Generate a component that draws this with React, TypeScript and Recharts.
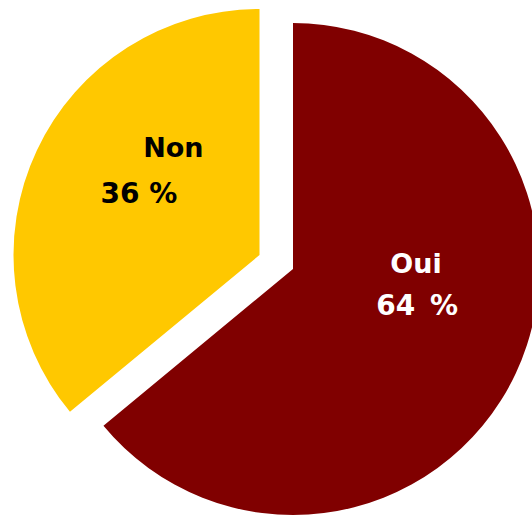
import { PieChart, Pie, Cell } from "recharts";

const categories = ["Oui", "Non"];
const shares = [64, 36];

const data = categories.map((name, i) => ({ name, value: shares[i] }));

const sliceColors = ["#800000", "#FFC800"];
const textColors = ["#FFFFFF", "#000000"];

// label placement relative to slice center, in fractions of the radius
const labelPos = [
  { name: [0.5, 0.018], pct: [0.505, 0.188], gap: 5 },
  { name: [-0.35, -0.398], pct: [-0.49, -0.211], gap: 0 },
];

const W = 532;
const H = 516;
const R = 246;
const FONT = "'DejaVu Sans', Verdana, sans-serif";

function makeLabel(show: number) {
  return (props: any) => {
    const { cx, cy, outerRadius, index, name, value } = props;
    if (index !== show) return null;
    const p = labelPos[index];
    const style = {
      fontFamily: FONT,
      fontWeight: 700,
      fontSize: 27,
      fill: textColors[index],
    };
    return (
      <g>
        <text
          x={cx + p.name[0] * outerRadius}
          y={cy + p.name[1] * outerRadius}
          textAnchor="middle"
          style={style}
        >
          {name}
        </text>
        <text
          x={cx + p.pct[0] * outerRadius}
          y={cy + p.pct[1] * outerRadius}
          textAnchor="middle"
          style={{ ...style, fontSize: 28 }}
        >
          {value}
          <tspan dx={p.gap}>{" %"}</tspan>
        </text>
      </g>
    );
  };
}

export default function App() {
  return (
    <div style={{ position: "absolute", left: 0, top: 0, width: W, height: H, background: "#fff" }}>
      <PieChart width={W} height={H} margin={{ top: 0, right: 0, bottom: 0, left: 0 }}>
        {/* main slice */}
        <Pie
          data={data}
          dataKey="value"
          nameKey="name"
          cx={293}
          cy={269}
          outerRadius={R}
          startAngle={90}
          endAngle={-270}
          stroke="none"
          labelLine={false}
          label={makeLabel(0)}
          isAnimationActive={false}
        >
          {data.map((d, i) => (
            <Cell key={d.name} fill={i === 0 ? sliceColors[0] : "none"} />
          ))}
        </Pie>
        {/* pulled-out slice */}
        <Pie
          data={data}
          dataKey="value"
          nameKey="name"
          cx={259.5}
          cy={255}
          outerRadius={R}
          startAngle={90}
          endAngle={-270}
          stroke="none"
          labelLine={false}
          label={makeLabel(1)}
          isAnimationActive={false}
        >
          {data.map((d, i) => (
            <Cell key={d.name} fill={i === 1 ? sliceColors[1] : "none"} />
          ))}
        </Pie>
      </PieChart>
    </div>
  );
}
